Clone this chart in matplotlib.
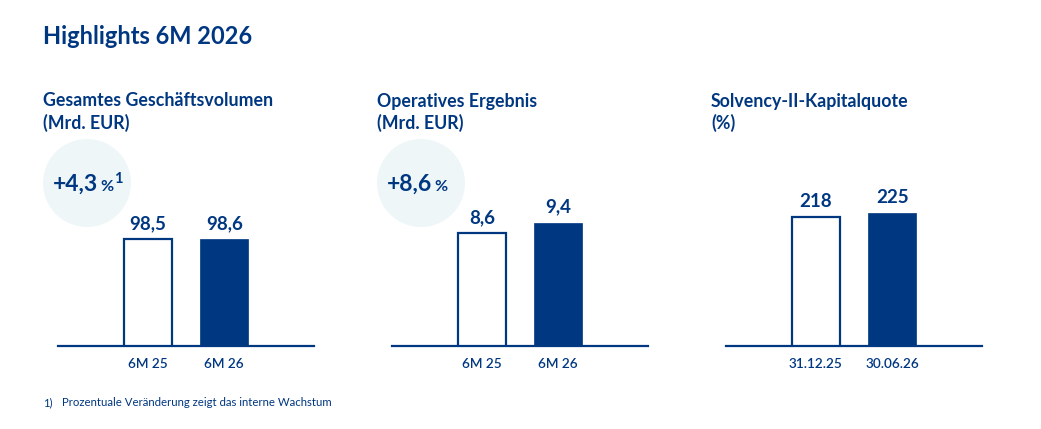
import matplotlib
matplotlib.use("Agg")
import matplotlib.pyplot as plt
from matplotlib.patches import Ellipse

plt.rcParams['font.family'] = ['Lato', 'DejaVu Sans']

BLUE = '#003781'
CIRCLE = '#EEF6F8'
W, H = 1041, 429

# data
titles = [
    ['Gesamtes Geschäftsvolumen', '(Mrd. EUR)'],
    ['Operatives Ergebnis', '(Mrd. EUR)'],
    ['Solvency-II-Kapitalquote', '(%)'],
]
categories = [
    ['6M 25', '6M 26'],
    ['6M 25', '6M 26'],
    ['31.12.25', '30.06.26'],
]
values = [
    [98.5, 98.6],
    [8.6, 9.4],
    [218, 225],
]
value_labels = [
    ['98,5', '98,6'],
    ['8,6', '9,4'],
    ['218', '225'],
]
growth = ['+4,3', '+8,6', None]
growth_note = ['1', '', None]
ymax = [226.5, 18.75, 417]

panel_left = [58, 392, 726]
panel_width = 256
base_y = 346
top_y = 100


def fx(x):
    return x / W


def fy(y):
    return 1 - y / H


fig = plt.figure(figsize=(W / 100, H / 100), dpi=100)
fig.patch.set_facecolor('white')

fig.text(fx(43), fy(37), 'Highlights 6M 2026', fontsize=17, fontweight='bold',
         color=BLUE, ha='left', va='center')

for i in range(3):
    left = panel_left[i]
    ax = fig.add_axes([fx(left), fy(base_y), panel_width / W, (base_y - top_y) / H])
    ax.set_facecolor('none')
    x = [0, 1]
    ax.bar(x[0], values[i][0], width=0.63, color='white', edgecolor=BLUE, linewidth=1.6, zorder=3)
    ax.bar(x[1], values[i][1], width=0.63, color=BLUE, edgecolor=BLUE, linewidth=0.5, zorder=3)
    for xi, v, lab in zip(x, values[i], value_labels[i]):
        ax.annotate(lab, (xi, v), xytext=(0, 5), textcoords='offset points',
                    ha='center', va='bottom', fontsize=13.5, fontweight='bold', color=BLUE)
    ax.set_xlim(-1.175, 2.175)
    ax.set_ylim(0, ymax[i])
    ax.set_xticks(x)
    ax.set_xticklabels(categories[i], fontsize=9.8, color=BLUE, fontweight='semibold')
    ax.tick_params(axis='x', length=0, pad=9)
    ax.set_yticks([])
    for s in ['top', 'left', 'right']:
        ax.spines[s].set_visible(False)
    ax.spines['bottom'].set_color(BLUE)
    ax.spines['bottom'].set_linewidth(1.6)

    tx = left - 15
    fig.text(fx(tx), fy(101), titles[i][0], fontsize=12.8, fontweight='bold',
             color=BLUE, ha='left', va='center')
    fig.text(fx(tx), fy(123), titles[i][1], fontsize=12.8, fontweight='bold',
             color=BLUE, ha='left', va='center')

    if growth[i] is not None:
        cx = left + 29
        fig.add_artist(Ellipse((fx(cx), fy(183)), 88 / W, 88 / H,
                               transform=fig.transFigure, facecolor=CIRCLE,
                               edgecolor='none', zorder=0))
        fig.text(fx(cx + 11), fy(191), growth[i], fontsize=16.5, fontweight='bold',
                 color=BLUE, ha='right', va='baseline')
        fig.text(fx(cx + 13), fy(191), '%', fontsize=11.5, fontweight='bold',
                 color=BLUE, ha='left', va='baseline')
        if growth_note[i]:
            fig.text(fx(cx + 27), fy(183), growth_note[i], fontsize=10.5, fontweight='bold',
                     color=BLUE, ha='left', va='baseline')

fig.text(fx(43), fy(403), '1)', fontsize=8, color=BLUE, ha='left', va='center')
fig.text(fx(62), fy(403), 'Prozentuale Veränderung zeigt das interne Wachstum',
         fontsize=8.2, color=BLUE, ha='left', va='center')

fig.savefig('out.png', dpi=100)
